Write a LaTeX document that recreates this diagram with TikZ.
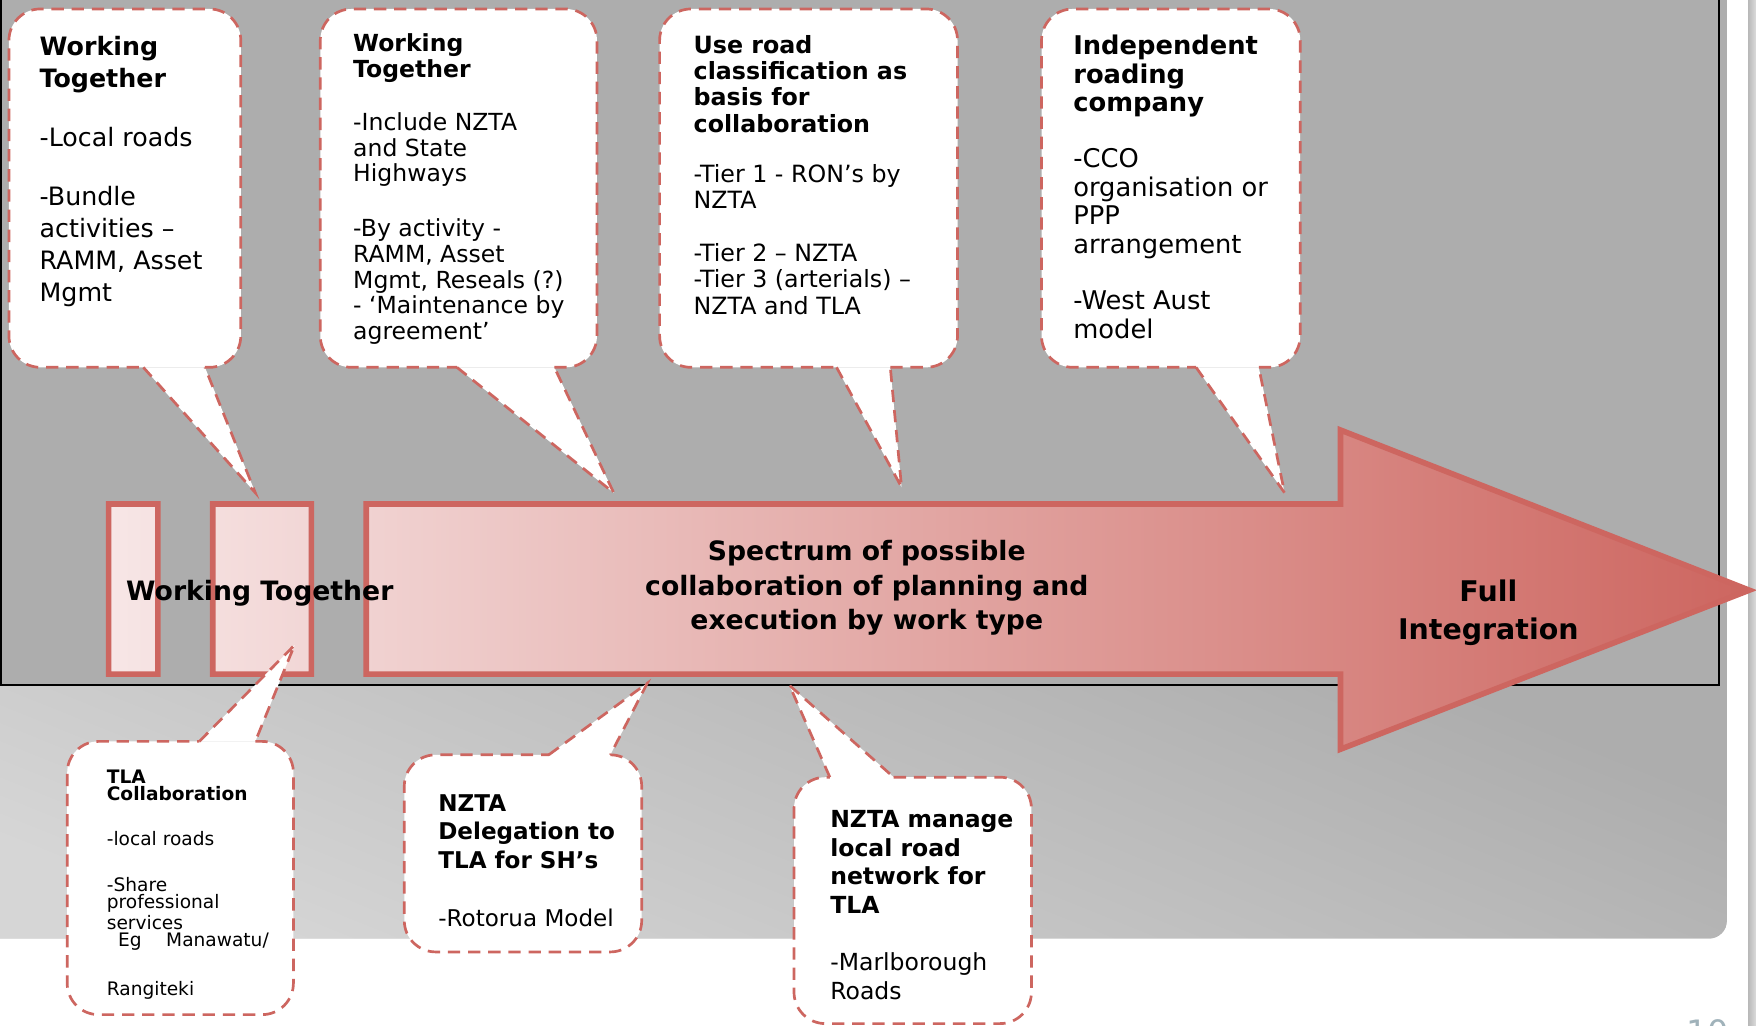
\documentclass[tikz,border=0pt]{standalone}
\usepackage{fontspec}
\setmainfont{DejaVu Sans}
\usepackage{xcolor}
\usepackage{tikz}

\definecolor{panelgray}{RGB}{173,173,173}
\definecolor{panellight}{RGB}{214,214,214}
\definecolor{bandred}{RGB}{205,102,96}
\definecolor{bandpale}{RGB}{247,230,230}
\definecolor{pagenum}{RGB}{160,178,186}

\begin{document}
\begin{tikzpicture}[x=0.5pt, y=-0.5pt]
    \tikzstyle{bubble}=[draw=bandred, line width=1.2pt, dash pattern=on 5.5pt off 3.5pt]
    \tikzstyle{note}=[anchor=north west, inner sep=0pt, align=left]
    \tikzstyle{band}=[draw=bandred, line width=2.5pt, left color=bandpale, right color=bandred]
    \tikzstyle{title}=[align=center, inner sep=0pt]

    \useasboundingbox (0,0) rectangle (1568,916);
    \fill[white] (0,0) rectangle (1568,916);

    % Slide panel (flat on top, fading out towards the bottom left)
    \fill[panelgray, rounded corners=8pt] (-30,-30) rectangle (1542,838);
    \begin{scope}
        \clip[rounded corners=8pt] (-30,-30) rectangle (1542,838);
        \shade[top color=panelgray, bottom color=panellight, shading angle=-22] (-30,612) rectangle (1542,838);
    \end{scope}
    \draw[line width=0.8pt] (0.8,-10) rectangle (1535,612);
    \shade[left color=gray!55, right color=gray!20] (1561,-10) rectangle (1570,930);

    % Band: two bars + arrow, one shading over all three
    \draw[band] (97,450) rectangle (141,602)
        (190,450) rectangle (278,602)
        (327,450) -- (1197,450) -- (1197,384) -- (1562,527) -- (1197,669) -- (1197,602) -- (327,602) -- cycle;

    % Callouts: left/right x, tail edge y, far edge y, tail base x (2), tail tip
    \foreach \lx/\rx/\ey/\fy/\bl/\br/\tx/\ty in {
            8/215/328/8/128/183/228/440,
            286/533/328/8/408/495/548/440,
            589/855/328/8/747/795/805/435,
            930/1161/328/8/1068/1124/1147/440,
            60/262/662/906/178/228/263/576,
            361/573/674/850/490/545/578/610,
            709/921/694/914/741/798/705/612} {
        \fill[white, rounded corners=14pt] (\lx,\ey) rectangle (\rx,\fy);
        \fill[white] (\bl,\ey) -- (\tx,\ty) -- (\br,\ey) -- cycle;
        \draw[bubble, rounded corners=14pt] (\br,\ey) -- (\rx,\ey) -- (\rx,\fy) -- (\lx,\fy) -- (\lx,\ey) -- (\bl,\ey);
        \draw[bubble] (\bl,\ey) -- (\tx,\ty) -- (\br,\ey);
    }

    % Callout texts
    \node[note, font=\fontsize{11.3}{14.4}\selectfont] (local) at (35,32)
        {\textbf{Working}\\\textbf{Together}\\[11.8pt]-Local roads\\[11.8pt]-Bundle\\activities –\\RAMM, Asset\\Mgmt};
    \node[note, font=\fontsize{10.5}{11.5}\selectfont] (state) at (315,30)
        {\textbf{Working}\\\textbf{Together}\\[12pt]-Include NZTA\\and State\\Highways\\[13pt]-By activity -\\RAMM, Asset\\Mgmt, Reseals (?)\\- ‘Maintenance by\\agreement’};
    \node[note, font=\fontsize{10.6}{11.75}\selectfont] (tiers) at (619,31)
        {\textbf{Use road}\\\textbf{classification as}\\\textbf{basis for}\\\textbf{collaboration}\\[10.75pt]-Tier 1 - RON’s by\\NZTA\\[11.75pt]-Tier 2 – NZTA\\-Tier 3 (arterials) –\\NZTA and TLA};
    \node[note, font=\fontsize{11.5}{12.75}\selectfont] (company) at (958,31)
        {\textbf{Independent}\\\textbf{roading}\\\textbf{company}\\[12.25pt]-CCO\\organisation or\\PPP\\arrangement\\[12.25pt]-West Aust\\model};
    \node[note, font=\fontsize{8.3}{7.75}\selectfont] (tla) at (95,687)
        {\textbf{TLA}\\\textbf{Collaboration}\\[12.25pt]-local roads\\[12.75pt]-Share\\professional\\services\\\hspace*{5pt}Eg\hspace{11pt}Manawatu/\\[12.75pt]Rangiteki};
    \node[note, font=\fontsize{10.3}{12.75}\selectfont] (delegation) at (391,709)
        {\textbf{NZTA}\\\textbf{Delegation to}\\\textbf{TLA for SH’s}\\[13.25pt]-Rotorua Model};
    \node[note, font=\fontsize{10.5}{12.85}\selectfont] (manage) at (741,723)
        {\textbf{NZTA manage}\\\textbf{local road}\\\textbf{network for}\\\textbf{TLA}\\[12.65pt]-Marlborough\\Roads};

    % Band labels
    \node[title, font=\fontsize{11.9}{15}\selectfont\bfseries] (together) at (232,530) {Working Together};
    \node[title, font=\fontsize{11.9}{15.5}\selectfont\bfseries] (spectrum) at (774,525)
        {Spectrum of possible\\collaboration of planning and\\execution by work type};
    \node[title, font=\fontsize{12.7}{17}\selectfont\bfseries] (full) at (1329,547) {Full\\Integration};

    \node[anchor=north, inner sep=0pt, text=pagenum, font=\fontsize{15}{18}\selectfont] (slideno) at (1525,910) {10};
\end{tikzpicture}
\end{document}
